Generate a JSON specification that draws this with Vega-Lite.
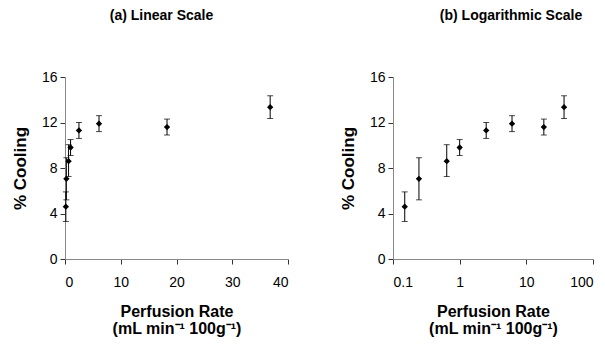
{
  "$schema": "https://vega.github.io/schema/vega-lite/v6.json",
  "padding": {"left": 11, "top": 9, "right": 0, "bottom": 2},
  "background": "white",
  "bounds": "flush",
  "spacing": 105,
  "data": {"values": [
    {"rate": 0.15, "y": 4.6, "lo": 3.3, "hi": 5.9},
    {"rate": 0.245, "y": 7.05, "lo": 5.2, "hi": 8.9},
    {"rate": 0.64, "y": 8.6, "lo": 7.25, "hi": 10.05},
    {"rate": 1.0, "y": 9.8, "lo": 9.1, "hi": 10.5},
    {"rate": 2.5, "y": 11.3, "lo": 10.6, "hi": 12.0},
    {"rate": 6.1, "y": 11.9, "lo": 11.2, "hi": 12.6},
    {"rate": 18.3, "y": 11.6, "lo": 10.9, "hi": 12.3},
    {"rate": 36.8, "y": 13.35, "lo": 12.35, "hi": 14.35}
  ]},
  "config": {
    "view": {"stroke": null},
    "font": "Liberation Sans",
    "axis": {
      "grid": false, "domainColor": "#888", "tickColor": "#333", "tickSize": 5,
      "labelFont": "Liberation Sans", "labelFontSize": 14, "labelColor": "#000",
      "titleFont": "Liberation Sans", "titleFontWeight": "bold", "titleColor": "#000"
    },
    "axisX": {"labelPadding": 11, "titleFontSize": 16, "titlePadding": 14, "titleLineHeight": 17},
    "axisY": {"labelPadding": 3, "titleFontSize": 17, "titlePadding": 12},
    "title": {"fontSize": 14, "font": "Liberation Sans", "fontWeight": "bold", "offset": 47, "color": "#000"}
  },
  "hconcat": [
    {
      "width": 223, "height": 182,
      "title": {"text": "(a) Linear Scale", "dx": -15},
      "layer": [
        {
          "mark": {"type": "errorbar", "orient": "vertical", "color": "#000", "thickness": 1, "ticks": {"size": 6, "color": "#000"}},
          "encoding": {
            "x": {"field": "rate", "type": "quantitative", "scale": {"domain": [0, 40], "padding": 0, "nice": false},
                  "axis": {"values": [0, 10, 20, 30, 40], "title": ["Perfusion Rate", "(mL min⁻¹ 100g⁻¹)"]}},
            "y": {"field": "lo", "type": "quantitative", "scale": {"domain": [0, 16], "padding": 0},
                  "axis": {"values": [0, 4, 8, 12, 16], "title": "% Cooling"}},
            "y2": {"field": "hi"}
          }
        },
        {
          "mark": {"type": "point", "shape": "diamond", "filled": true, "color": "#000", "size": 40, "opacity": 1},
          "encoding": {
            "x": {"field": "rate", "type": "quantitative"},
            "y": {"field": "y", "type": "quantitative"}
          }
        }
      ]
    },
    {
      "width": 200, "height": 182,
      "title": {"text": "(b) Logarithmic Scale", "dx": 18},
      "layer": [
        {
          "mark": {"type": "errorbar", "orient": "vertical", "color": "#000", "thickness": 1, "ticks": {"size": 6, "color": "#000"}},
          "encoding": {
            "x": {"field": "rate", "type": "quantitative", "scale": {"type": "log", "domain": [0.1, 100], "padding": 0, "nice": false},
                  "axis": {"values": [0.1, 1, 10, 100], "format": "~g", "title": ["Perfusion Rate", "(mL min⁻¹ 100g⁻¹)"]}},
            "y": {"field": "lo", "type": "quantitative", "scale": {"domain": [0, 16], "padding": 0},
                  "axis": {"values": [0, 4, 8, 12, 16], "title": "% Cooling"}},
            "y2": {"field": "hi"}
          }
        },
        {
          "mark": {"type": "point", "shape": "diamond", "filled": true, "color": "#000", "size": 40, "opacity": 1},
          "encoding": {
            "x": {"field": "rate", "type": "quantitative"},
            "y": {"field": "y", "type": "quantitative"}
          }
        }
      ]
    }
  ]
}
